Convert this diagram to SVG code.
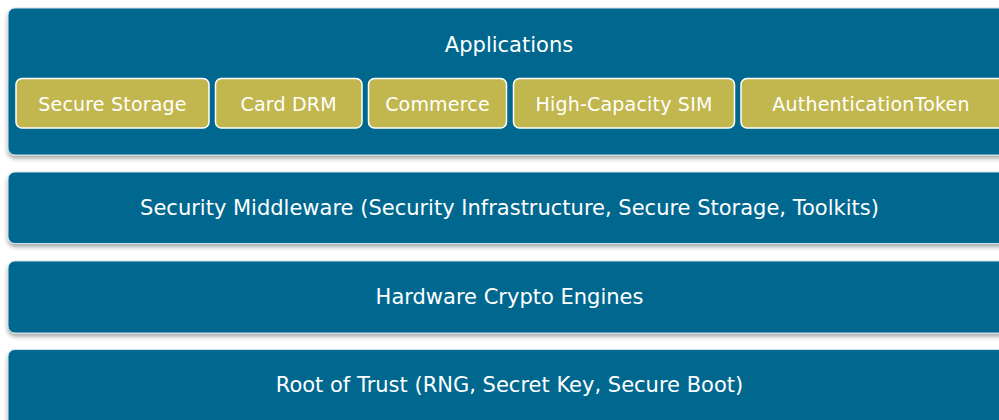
<svg xmlns="http://www.w3.org/2000/svg" width="999" height="420" viewBox="0 0 999 420">
<defs>
<filter id="sh" x="-5%" y="-20%" width="110%" height="150%">
<feDropShadow dx="0" dy="3" stdDeviation="2" flood-color="#000" flood-opacity="0.35"/>
</filter>
<style>
.panel{fill:#00678F;stroke:#cfe3ec;stroke-width:1;filter:url(#sh)}
.app{fill:#C1B74E;stroke:#ffffff;stroke-width:1.5}
.t{font-family:"DejaVu Sans",sans-serif;fill:#ffffff;text-anchor:middle}
.big{font-size:21px}
.small{font-size:19px;letter-spacing:0.2px}
</style>
</defs>
<rect width="999" height="420" fill="#ffffff"/>
<g id="applications">
<rect class="panel" x="8" y="8" width="1002" height="147" rx="7"/>
<text class="t big" x="509" y="52">Applications</text>
</g>
<g id="secure-storage">
<rect class="app" x="16" y="78.5" width="193" height="49.5" rx="6"/>
<text class="t small" x="112.5" y="111">Secure Storage</text>
</g>
<g id="card-drm">
<rect class="app" x="215.5" y="78.5" width="146.5" height="49.5" rx="6"/>
<text class="t small" x="288.7" y="111">Card DRM</text>
</g>
<g id="commerce">
<rect class="app" x="368.5" y="78.5" width="138" height="49.5" rx="6"/>
<text class="t small" x="437.5" y="111">Commerce</text>
</g>
<g id="high-capacity-sim">
<rect class="app" x="513.5" y="78.5" width="221" height="49.5" rx="6"/>
<text class="t small" x="624" y="111">High-Capacity SIM</text>
</g>
<g id="authentication-token">
<rect class="app" x="741" y="78.5" width="264" height="49.5" rx="6"/>
<text class="t small" x="871" y="111">AuthenticationToken</text>
</g>
<g id="security-middleware">
<rect class="panel" x="8" y="172" width="1002" height="71.5" rx="7"/>
<text class="t big" x="509.5" y="215">Security Middleware (Security Infrastructure, Secure Storage, Toolkits)</text>
</g>
<g id="hardware-crypto">
<rect class="panel" x="8" y="261" width="1002" height="72" rx="7"/>
<text class="t big" x="509.5" y="304">Hardware Crypto Engines</text>
</g>
<g id="root-of-trust">
<rect class="panel" x="8" y="349.5" width="1002" height="80" rx="7"/>
<text class="t big" x="509.5" y="392">Root of Trust (RNG, Secret Key, Secure Boot)</text>
</g>
<g id="connectors"></g>
</svg>
